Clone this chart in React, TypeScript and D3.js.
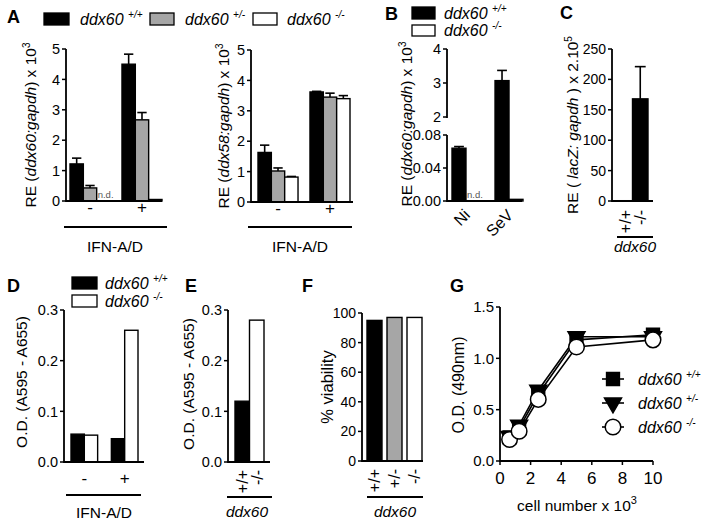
import React from 'react';
import * as d3 from 'd3';

const FONT = "'Liberation Sans', Arial, Helvetica, sans-serif";
const BLACK = '#000';
const GRAY = '#a6a6a6';
const WHITE = '#fff';

// ---------------- data ----------------
const ifnGroups = ['-', '+'];
const genotypes3 = ['+/+', '+/-', '-/-'];
const genotypes2 = ['+/+', '-/-'];
const infections = ['Ni', 'SeV'];

// A left: ddx60 expression
const aDdx60WT = [1.22, 4.5];
const aDdx60WTErr = [0.19, 0.33];
const aDdx60Het = [0.43, 2.67];
const aDdx60HetErr = [0.08, 0.24];
const aDdx60KO: (number | null)[] = [null, 0.05];
const aDdx60KOErr = [0, 0.01];

// A right: ddx58 expression
const aDdx58WT = [1.63, 3.62];
const aDdx58WTErr = [0.24, 0.02];
const aDdx58Het = [1.02, 3.45];
const aDdx58HetErr = [0.1, 0.13];
const aDdx58KO = [0.82, 3.4];
const aDdx58KOErr = [0.02, 0.1];

// B
const bWT = [0.064, 3.07];
const bWTErr = [0.002, 0.3];
const bKO: (number | null)[] = [null, 0.002];

// C
const cLacZ = [0.5, 168];
const cLacZErr = [0, 53];

// D
const dWT = [0.055, 0.046];
const dKO = [0.053, 0.26];

// E
const eOD = [0.12, 0.28];

// F
const fViability = [95, 97, 97];

// G
const gCells = [0.625, 1.25, 2.5, 5, 10];
const gWT = [0.23, 0.32, 0.65, 1.18, 1.23];
const gWTErr = [0.02, 0.02, 0.03, 0.03, 0.02];
const gHet = [0.24, 0.35, 0.69, 1.21, 1.21];
const gHetErr = [0.02, 0.02, 0.03, 0.02, 0.02];
const gKO = [0.21, 0.29, 0.6, 1.11, 1.18];
const gKOErr = [0.02, 0.02, 0.03, 0.04, 0.02];

// ticks
const aTicks = [0, 1, 2, 3, 4, 5];
const bUpperTicks = [2, 3, 4];
const bLowerTicks = [0, 0.04, 0.08];
const cTicks = [0, 50, 100, 150, 200, 250];
const deTicks = [0, 0.1, 0.2, 0.3];
const fTicks = [0, 20, 40, 60, 80, 100];
const gYTicks = [0, 0.5, 1, 1.5];
const gXTicks = [0, 2, 4, 6, 8, 10];

const AXW = 1.8;

// ---------------- helpers ----------------
function YAxis({ x, scale, ticks, fmt, fontSize = 14.5, top, bottom }: any) {
  const r = scale.range();
  const y1 = bottom ?? r[0];
  const y2 = top ?? r[1];
  return (
    <g>
      <line x1={x} x2={x} y1={y1 + 0.9} y2={y2} stroke={BLACK} strokeWidth={AXW} />
      {ticks.map((t: number) => (
        <g key={t}>
          <line x1={x - 4} x2={x} y1={scale(t)} y2={scale(t)} stroke={BLACK} strokeWidth={1.5} />
          <text x={x - 6} y={scale(t)} dy="0.36em" textAnchor="end" fontSize={fontSize}>
            {fmt(t)}
          </text>
        </g>
      ))}
    </g>
  );
}

function XLine({ x1, x2, y }: any) {
  return <line x1={x1} x2={x2} y1={y} y2={y} stroke={BLACK} strokeWidth={AXW} />;
}

function BarWithErr({ x, w, y0, yTop, yErr, fill }: any) {
  return (
    <g>
      {yErr !== undefined && yErr < yTop - 0.5 && (
        <g stroke={BLACK} strokeWidth={1.6}>
          <line x1={x + w / 2} x2={x + w / 2} y1={yTop} y2={yErr} />
          <line x1={x + w * 0.15} x2={x + w * 0.85} y1={yErr} y2={yErr} />
        </g>
      )}
      <rect x={x} y={yTop} width={w} height={Math.max(0.6, y0 - yTop)} fill={fill} stroke={BLACK} strokeWidth={1.4} />
    </g>
  );
}

function GroupedBars({ groups, x0, keys, series, y, y0 }: any) {
  const x1 = d3.scaleBand().domain(keys).range([0, x0.bandwidth()]);
  const w = x1.bandwidth();
  return (
    <g>
      {groups.map((g: string, gi: number) =>
        keys.map((k: string, ki: number) => {
          const s = series[ki];
          const v = s.values[gi];
          const x = (x0(g) as number) + (x1(k) as number);
          if (v === null)
            return (
              <text key={g + k} x={x + 1} y={y0 - 3} fontSize={9.5} fill="#555">
                n.d.
              </text>
            );
          const e = s.errs ? s.errs[gi] : 0;
          return (
            <BarWithErr key={g + k} x={x} w={w} y0={y0} yTop={y(v)} yErr={e ? y(v + e) : undefined} fill={s.fill} />
          );
        })
      )}
    </g>
  );
}

function YTitle({ cx, cy, children, fontSize = 15.5 }: any) {
  return (
    <text transform={`translate(${cx + fontSize * 0.36},${cy}) rotate(-90)`} textAnchor="middle" fontSize={fontSize}>
      {children}
    </text>
  );
}

function Sup({ children, size = 10, dy = -6 }: any) {
  return (
    <tspan dy={dy} fontSize={size}>
      {children}
    </tspan>
  );
}

function Geno({ x, y, sup, size = 16 }: any) {
  return (
    <text x={x} y={y} fontSize={size} fontStyle="italic">
      ddx60 <Sup size={10} dy={-7}>{sup}</Sup>
    </text>
  );
}

function PanelLetter({ x, y, children }: any) {
  return (
    <text x={x} y={y} fontSize={18} fontWeight="bold">
      {children}
    </text>
  );
}

function RotLabels({ labels, xs, yTop, fontSize = 16 }: any) {
  return (
    <g>
      {labels.map((l: string, i: number) => (
        <text key={l} transform={`translate(${xs[i]},${yTop}) rotate(-90)`} textAnchor="end" dy="0.36em" fontSize={fontSize}>
          {l}
        </text>
      ))}
    </g>
  );
}

// ---------------- panels ----------------
function PanelA() {
  const y1 = d3.scaleLinear().domain([0, 5]).range([201, 49]);
  const x01 = d3.scaleBand().domain(ifnGroups).range([70, 162]).paddingInner(0.23);
  const y2 = d3.scaleLinear().domain([0, 5]).range([202, 50]);
  const x02 = d3.scaleBand().domain(ifnGroups).range([258, 350]).paddingInner(0.23);
  return (
    <g>
      <PanelLetter x={7} y={23}>A</PanelLetter>
      <rect x={44} y={13} width={25} height={12} fill={BLACK} stroke={BLACK} strokeWidth={1.3} />
      <Geno x={80} y={25} sup="+/+" />
      <rect x={150} y={13} width={24} height={12} fill={GRAY} stroke={BLACK} strokeWidth={1.3} />
      <Geno x={185} y={25} sup="+/-" />
      <rect x={253} y={13} width={24} height={12} fill={WHITE} stroke={BLACK} strokeWidth={1.3} />
      <Geno x={287} y={25} sup="-/-" />

      {/* left */}
      <YTitle cx={30} cy={125}>
        <tspan>RE (</tspan>
        <tspan fontStyle="italic">ddx60:gapdh</tspan>
        <tspan>) x 10</tspan>
        <Sup>3</Sup>
      </YTitle>
      <GroupedBars
        groups={ifnGroups}
        x0={x01}
        keys={genotypes3}
        y={y1}
        y0={y1(0)}
        series={[
          { values: aDdx60WT, errs: aDdx60WTErr, fill: BLACK },
          { values: aDdx60Het, errs: aDdx60HetErr, fill: GRAY },
          { values: aDdx60KO, errs: aDdx60KOErr, fill: WHITE },
        ]}
      />
      <YAxis x={66} scale={y1} ticks={aTicks} fmt={(t: number) => String(t)} />
      <XLine x1={66} x2={162} y={y1(0)} />
      {ifnGroups.map((g) => (
        <text key={g} x={(x01(g) as number) + x01.bandwidth() / 2} y={213} textAnchor="middle" fontSize={17}>
          {g}
        </text>
      ))}
      <XLine x1={64} x2={167} y={227} />
      <text x={115} y={252} textAnchor="middle" fontSize={15.5}>IFN-A/D</text>

      {/* right */}
      <YTitle cx={223} cy={126}>
        <tspan>RE (</tspan>
        <tspan fontStyle="italic">ddx58:gapdh</tspan>
        <tspan>) x 10</tspan>
        <Sup>3</Sup>
      </YTitle>
      <GroupedBars
        groups={ifnGroups}
        x0={x02}
        keys={genotypes3}
        y={y2}
        y0={y2(0)}
        series={[
          { values: aDdx58WT, errs: aDdx58WTErr, fill: BLACK },
          { values: aDdx58Het, errs: aDdx58HetErr, fill: GRAY },
          { values: aDdx58KO, errs: aDdx58KOErr, fill: WHITE },
        ]}
      />
      <YAxis x={251} scale={y2} ticks={aTicks} fmt={(t: number) => String(t)} />
      <XLine x1={251} x2={353} y={y2(0)} />
      {ifnGroups.map((g) => (
        <text key={g} x={(x02(g) as number) + x02.bandwidth() / 2} y={214} textAnchor="middle" fontSize={17}>
          {g}
        </text>
      ))}
      <XLine x1={248} x2={352} y={227} />
      <text x={300} y={252} textAnchor="middle" fontSize={15.5}>IFN-A/D</text>
    </g>
  );
}

function PanelB() {
  const lower = d3.scaleLinear().domain([0, 0.08]).range([201, 135]);
  const upper = d3.scaleLinear().domain([2, 4]).range([117, 49]);
  const yB = (v: number) => (v <= 0.08 ? lower(v) : upper(v));
  const x0 = d3.scaleBand().domain(infections).range([452, 523]).paddingInner(0.35);
  return (
    <g>
      <PanelLetter x={385} y={20}>B</PanelLetter>
      <rect x={412} y={7} width={23} height={12} fill={BLACK} stroke={BLACK} strokeWidth={1.3} />
      <Geno x={444} y={19} sup="+/+" />
      <rect x={412} y={25} width={23} height={11} fill={WHITE} stroke={BLACK} strokeWidth={1.3} />
      <Geno x={444} y={36} sup="-/-" />
      <YTitle cx={406} cy={124}>
        <tspan>RE (</tspan>
        <tspan fontStyle="italic">ddx60:gapdh</tspan>
        <tspan>) x 10</tspan>
        <Sup>3</Sup>
      </YTitle>
      <GroupedBars
        groups={infections}
        x0={x0}
        keys={genotypes2}
        y={yB}
        y0={lower(0)}
        series={[
          { values: bWT, errs: bWTErr, fill: BLACK },
          { values: bKO, fill: WHITE },
        ]}
      />
      <YAxis x={447} scale={upper} ticks={bUpperTicks} fmt={(t: number) => String(t)} />
      <YAxis x={447} scale={lower} ticks={bLowerTicks} fmt={(t: number) => t.toFixed(2)} />
      <XLine x1={447} x2={522} y={lower(0)} />
      {infections.map((g) => (
        <text
          key={g}
          transform={`translate(${(x0(g) as number) + x0.bandwidth() / 2 + 1},${212}) rotate(-45)`}
          textAnchor="end"
          dy="0.36em"
          fontSize={16}
        >
          {g}
        </text>
      ))}
    </g>
  );
}

function PanelC() {
  const y = d3.scaleLinear().domain([0, 250]).range([201, 49]);
  const x = d3.scaleBand().domain(genotypes2).range([617, 648]);
  return (
    <g>
      <PanelLetter x={560} y={19}>C</PanelLetter>
      <YTitle cx={572} cy={125}>
        <tspan>RE ( </tspan>
        <tspan fontStyle="italic">lacZ: gapdh</tspan>
        <tspan> ) x 2.10</tspan>
        <Sup>5</Sup>
      </YTitle>
      {genotypes2.map((g, i) => (
        <BarWithErr
          key={g}
          x={x(g)}
          w={x.bandwidth()}
          y0={y(0)}
          yTop={y(cLacZ[i])}
          yErr={cLacZErr[i] ? y(cLacZ[i] + cLacZErr[i]) : undefined}
          fill={i === 0 ? WHITE : BLACK}
        />
      ))}
      <YAxis x={612} scale={y} ticks={cTicks} fmt={(t: number) => String(t)} fontSize={14} />
      <XLine x1={612} x2={653} y={y(0)} />
      <RotLabels labels={genotypes2} xs={genotypes2.map((g) => (x(g) as number) + x.bandwidth() / 2)} yTop={210} />
      <XLine x1={617} x2={653} y={237} />
      <text x={635} y={252} textAnchor="middle" fontSize={15.5} fontStyle="italic">ddx60</text>
    </g>
  );
}

function PanelD() {
  const y = d3.scaleLinear().domain([0, 0.3]).range([462, 310]);
  const x0 = d3.scaleBand().domain(ifnGroups).range([71, 138]).paddingInner(0.34);
  return (
    <g>
      <PanelLetter x={7} y={292}>D</PanelLetter>
      <rect x={72} y={277} width={25} height={12} fill={BLACK} stroke={BLACK} strokeWidth={1.3} />
      <Geno x={105} y={289} sup="+/+" />
      <rect x={72} y={295} width={25} height={12} fill={WHITE} stroke={BLACK} strokeWidth={1.3} />
      <Geno x={105} y={307} sup="-/-" />
      <YTitle cx={21} cy={382}>O.D. (A595 - A655)</YTitle>
      <GroupedBars
        groups={ifnGroups}
        x0={x0}
        keys={genotypes2}
        y={y}
        y0={y(0)}
        series={[
          { values: dWT, fill: BLACK },
          { values: dKO, fill: WHITE },
        ]}
      />
      <YAxis x={64} scale={y} ticks={deTicks} fmt={(t: number) => t.toFixed(1)} />
      <XLine x1={64} x2={144} y={y(0)} />
      {ifnGroups.map((g) => (
        <text key={g} x={(x0(g) as number) + x0.bandwidth() / 2} y={484} textAnchor="middle" fontSize={17}>
          {g}
        </text>
      ))}
      <XLine x1={66} x2={141} y={495} />
      <text x={104} y={518} textAnchor="middle" fontSize={15.5}>IFN-A/D</text>
    </g>
  );
}

function PanelE() {
  const y = d3.scaleLinear().domain([0, 0.3]).range([462, 310]);
  const x = d3.scaleBand().domain(genotypes2).range([235, 264]);
  return (
    <g>
      <PanelLetter x={185} y={292}>E</PanelLetter>
      <YTitle cx={188} cy={384}>O.D. (A595 - A655)</YTitle>
      {genotypes2.map((g, i) => (
        <BarWithErr key={g} x={x(g)} w={x.bandwidth()} y0={y(0)} yTop={y(eOD[i])} fill={i === 0 ? BLACK : WHITE} />
      ))}
      <YAxis x={228} scale={y} ticks={deTicks} fmt={(t: number) => t.toFixed(1)} />
      <XLine x1={228} x2={270} y={y(0)} />
      <RotLabels labels={genotypes2} xs={genotypes2.map((g) => (x(g) as number) + x.bandwidth() / 2)} yTop={470} />
      <XLine x1={227} x2={272} y={497} />
      <text x={247} y={517} textAnchor="middle" fontSize={15.5} fontStyle="italic">ddx60</text>
    </g>
  );
}

function PanelF() {
  const y = d3.scaleLinear().domain([0, 100]).range([461, 313]);
  const x = d3.scaleBand().domain(genotypes3).range([367, 422]).paddingInner(0.25);
  const fills = [BLACK, GRAY, WHITE];
  return (
    <g>
      <PanelLetter x={302} y={292}>F</PanelLetter>
      <YTitle cx={327} cy={387} fontSize={16.5}>% viability</YTitle>
      {genotypes3.map((g, i) => (
        <BarWithErr key={g} x={x(g)} w={x.bandwidth()} y0={y(0)} yTop={y(fViability[i])} fill={fills[i]} />
      ))}
      <YAxis x={362} scale={y} ticks={fTicks} fmt={(t: number) => String(t)} fontSize={14} />
      <XLine x1={362} x2={423} y={y(0)} />
      <RotLabels labels={genotypes3} xs={genotypes3.map((g) => (x(g) as number) + x.bandwidth() / 2)} yTop={469} />
      <XLine x1={367} x2={423} y={497} />
      <text x={395} y={517} textAnchor="middle" fontSize={15.5} fontStyle="italic">ddx60</text>
    </g>
  );
}

function PanelG() {
  const x = d3.scaleLinear().domain([0, 10]).range([500, 653]);
  const y = d3.scaleLinear().domain([0, 1.5]).range([461, 307]);
  const line = d3
    .line<number>()
    .x((_, i) => x(gCells[i]))
    .y((d) => y(d));
  const sq = d3.symbol().type(d3.symbolSquare).size(165)() as string;
  const tri = d3.symbol().type(d3.symbolTriangle).size(125)() as string;
  const circ = d3.symbol().type(d3.symbolCircle).size(190)() as string;
  const series = [
    { v: gWT, e: gWTErr, path: sq, rot: 0, fill: BLACK, sup: '+/+' },
    { v: gHet, e: gHetErr, path: tri, rot: 180, fill: BLACK, sup: '+/-' },
    { v: gKO, e: gKOErr, path: circ, rot: 0, fill: WHITE, sup: '-/-' },
  ];
  const legendY = [379, 403, 427];
  return (
    <g>
      <PanelLetter x={450} y={292}>G</PanelLetter>
      <YTitle cx={458} cy={385} fontSize={16}>O.D. (490nm)</YTitle>
      {series.map((s, si) => (
        <g key={si}>
          <path d={line(s.v) as string} fill="none" stroke={BLACK} strokeWidth={1.6} />
          {s.v.map((d, i) => (
            <g key={i} stroke={BLACK} strokeWidth={1.3}>
              <line x1={x(gCells[i])} x2={x(gCells[i])} y1={y(d - s.e[i])} y2={y(d + s.e[i])} />
            </g>
          ))}
        </g>
      ))}
      {series.map((s, si) =>
        s.v.map((d, i) => (
          <path
            key={si + '-' + i}
            d={s.path}
            transform={`translate(${x(gCells[i])},${y(d)}) rotate(${s.rot})`}
            fill={s.fill}
            stroke={BLACK}
            strokeWidth={1.5}
          />
        ))
      )}
      {/* axes */}
      <line x1={500} x2={500} y1={y(0) + 0.9} y2={y(1.5)} stroke={BLACK} strokeWidth={AXW} />
      {gYTicks.map((t) => (
        <g key={t}>
          <line x1={496} x2={500} y1={y(t)} y2={y(t)} stroke={BLACK} strokeWidth={1.5} />
          <text x={494} y={y(t)} dy="0.36em" textAnchor="end" fontSize={15}>
            {t.toFixed(1)}
          </text>
        </g>
      ))}
      <line x1={500} x2={653} y1={y(0)} y2={y(0)} stroke={BLACK} strokeWidth={AXW} />
      {gXTicks.map((t) => (
        <g key={t}>
          <line x1={x(t)} x2={x(t)} y1={y(0)} y2={y(0) + 4} stroke={BLACK} strokeWidth={1.5} />
          <text x={x(t)} y={484} textAnchor="middle" fontSize={17}>
            {t}
          </text>
        </g>
      ))}
      <text x={577} y={511} textAnchor="middle" fontSize={15.5}>
        cell number x 10<Sup size={11} dy={-7}>3</Sup>
      </text>
      {/* legend */}
      {series.map((s, si) => (
        <g key={'l' + si}>
          <line x1={602} x2={624} y1={legendY[si]} y2={legendY[si]} stroke={BLACK} strokeWidth={1.6} />
          <path
            d={s.path}
            transform={`translate(613,${legendY[si]}) rotate(${s.rot})`}
            fill={s.fill}
            stroke={BLACK}
            strokeWidth={1.5}
          />
          <Geno x={638} y={legendY[si] + 6} sup={s.sup} />
        </g>
      ))}
    </g>
  );
}

export default function App() {
  return (
    <svg
      width={708}
      height={523}
      viewBox="0 0 708 523"
      style={{ position: 'absolute', left: 0, top: 0, background: '#fff' }}
      fontFamily={FONT}
    >
      <rect x={0} y={0} width={708} height={523} fill="#fff" />
      <PanelA />
      <PanelB />
      <PanelC />
      <PanelD />
      <PanelE />
      <PanelF />
      <PanelG />
    </svg>
  );
}
